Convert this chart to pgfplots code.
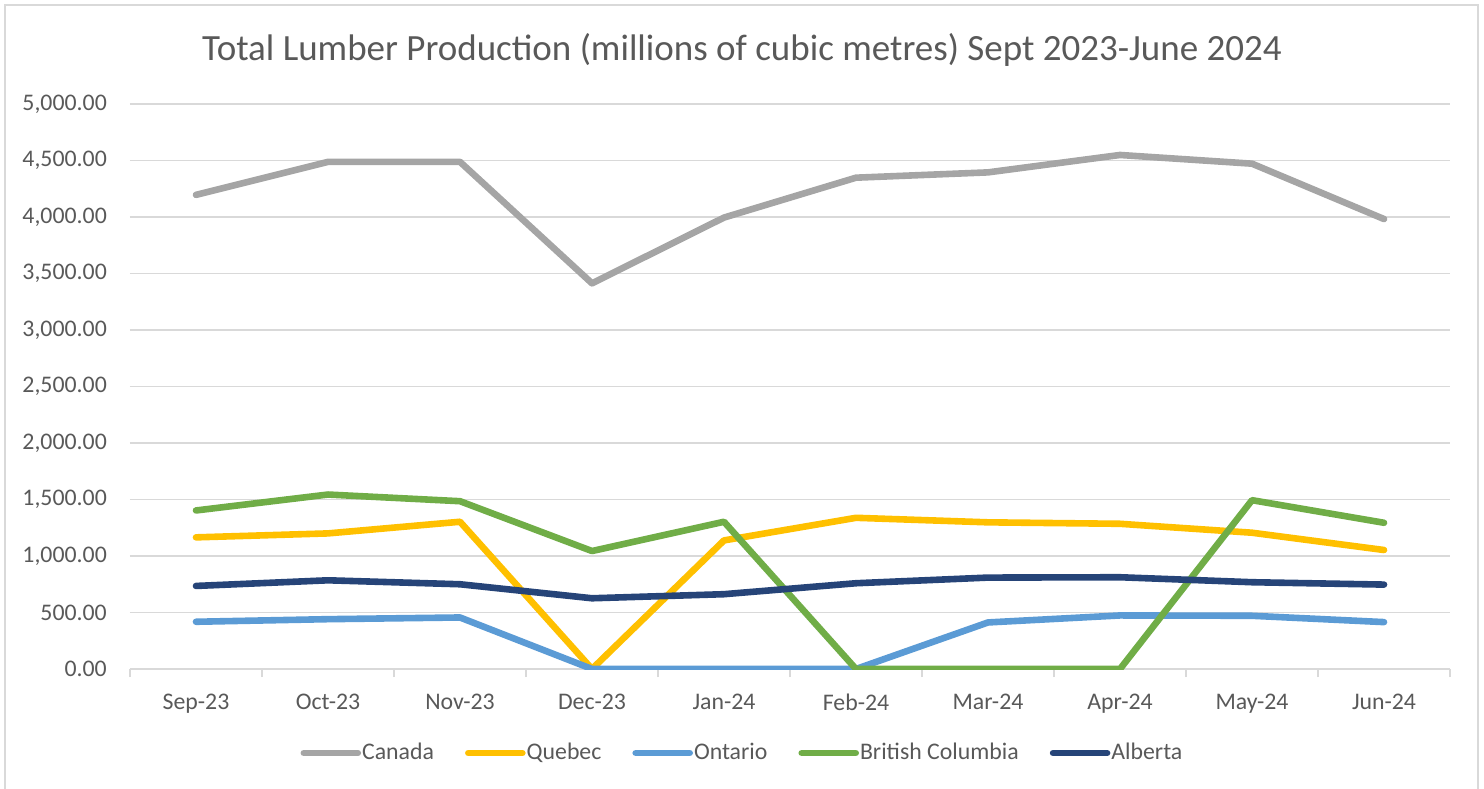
\documentclass[border=0pt]{standalone}
\usepackage{pgfplots}
\pgfplotsset{compat=1.18}
\usepackage{fontspec}
\setmainfont{Carlito}
\definecolor{txt}{HTML}{595959}
\definecolor{gridc}{HTML}{D9D9D9}
\definecolor{cCan}{HTML}{A5A5A5}
\definecolor{cQue}{HTML}{FFC000}
\definecolor{cOnt}{HTML}{5B9BD5}
\definecolor{cBC}{HTML}{70AD47}
\definecolor{cAlb}{HTML}{264478}
\begin{document}
\begin{tikzpicture}
\path[use as bounding box] (-65pt,-59.5pt) rectangle (677pt,334.5pt);
\draw[gridc, line width=1pt] (-62.5pt,-70pt) -- (-62.5pt,332pt) -- (674pt,332pt) -- (674pt,-70pt);
\begin{axis}[
  at={(0pt,0pt)}, anchor=south west,
  scale only axis, width=660pt, height=282.5pt,
  xmin=-0.5, xmax=9.5, ymin=0, ymax=5000,
  axis x line=bottom, axis y line=left,
  x axis line style={-, draw=gridc, line width=0.9pt},
  y axis line style={draw=none},
  xtick={0,...,9},
  xticklabels={Sep-23,Oct-23,Nov-23,Dec-23,Jan-24,Feb-24,Mar-24,Apr-24,May-24,Jun-24},
  major x tick style={draw=none},
  minor xtick={-0.5,0.5,...,9.5},
  minor x tick style={draw=gridc, line width=0.9pt},
  minor tick length=4pt,
  tick align=outside,
  ytick={0,500,...,5000},
  major y tick style={draw=none},
  ymajorgrids, grid style={gridc, line width=0.75pt},
  ticklabel style={font=\fontsize{11.9}{14}\selectfont, text=txt},
  /pgf/number format/fixed,
  /pgf/number format/fixed zerofill,
  /pgf/number format/precision=2,
  /pgf/number format/1000 sep={,},
  /pgf/number format/assume math mode=true,
  yticklabel style={xshift=-3.8pt},
  xticklabel style={yshift=-4.5pt},
  title={Total Lumber Production (millions of cubic metres) Sept 2023-June 2024},
  title style={at={(0.4636,1)}, anchor=center, yshift=21pt, font=\fontsize{18.5}{22}\selectfont, text=txt},
  legend columns=5,
  legend style={at={(0.4636,-0.1487)}, anchor=center, draw=none, fill=none,
    font=\fontsize{11.9}{14}\selectfont, text=txt,
    nodes={inner xsep=0.5pt},
    /tikz/every even column/.append style={column sep=15pt},
    /tikz/every odd column/.append style={column sep=0pt}},
  legend image code/.code={\draw[#1] (0pt,0pt) -- (27pt,0pt);},
  every axis plot/.append style={line width=3.3pt, line cap=round, line join=round},
]
\addplot[cCan] coordinates {(0,4196) (1,4488) (2,4488) (3,3413) (4,3995) (5,4348) (6,4395) (7,4549) (8,4472) (9,3982)};
\addlegendentry{Canada}
\addplot[cQue] coordinates {(0,1165) (1,1200) (2,1303) (3,0) (4,1138) (5,1338) (6,1298) (7,1285) (8,1206) (9,1053)};
\addlegendentry{Quebec}
\addplot[cOnt] coordinates {(0,418) (1,441) (2,456) (3,0) (4,0) (5,0) (6,412) (7,474) (8,471) (9,415)};
\addlegendentry{Ontario}
\addplot[cBC] coordinates {(0,1403) (1,1544) (2,1485) (3,1044) (4,1303) (5,0) (6,0) (7,0) (8,1494) (9,1294)};
\addlegendentry{British Columbia}
\addplot[cAlb] coordinates {(0,735) (1,785) (2,750) (3,626) (4,662) (5,759) (6,809) (7,812) (8,768) (9,747)};
\addlegendentry{Alberta}
\end{axis}
\end{tikzpicture}
\end{document}
